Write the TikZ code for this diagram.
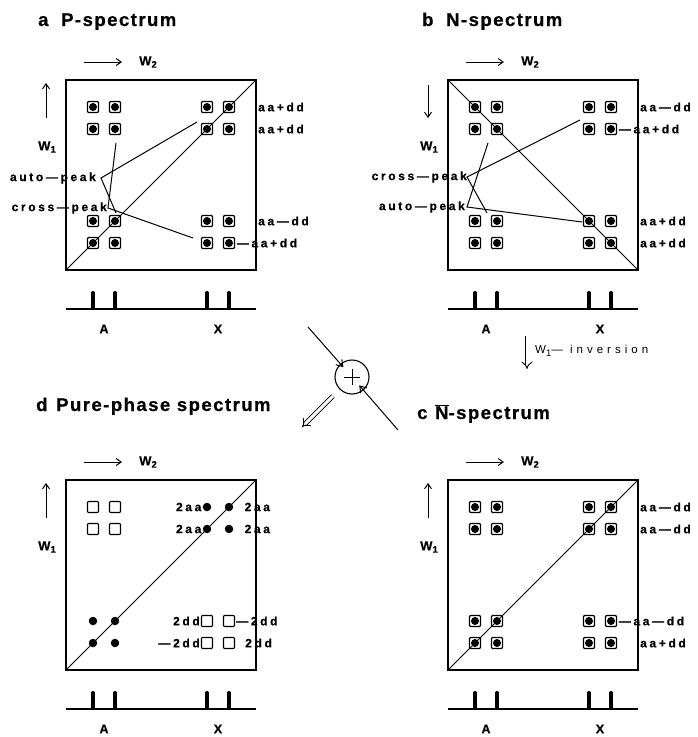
\documentclass[tikz,border=0pt]{standalone}
\usepackage{fontspec}
\setmainfont{Liberation Sans}[BoldFeatures={FakeBold=0.4}]
\newfontfamily\lblfont[LetterSpace=22, BoldFeatures={FakeBold=0.6}]{Liberation Sans}
\newfontfamily\ttlfont[LetterSpace=8, BoldFeatures={FakeBold=0.6}]{Liberation Sans}
\newfontfamily\invfont[LetterSpace=35]{Liberation Sans}
\usetikzlibrary{arrows.meta}
\newcommand\wsub[2]{W\raisebox{-2.5pt}{\fontsize{9.5}{9.5}\selectfont #2}}
% #1 prefix, #2 L, #3 T, #4 W1 start offset, #5 W1 end offset
\newcommand\panelframe[5]{%
  \draw[boxln] (#2,#3) rectangle ({#2+190},{#3+190});
  \coordinate (#1bl) at (#2,{#3+229});
  \coordinate (#1br) at ({#2+190},{#3+229});
  \draw[boxln] (#1bl) -- (#1br);
  \foreach \cc in {27,49,141,163}
    \fill[rounded corners=1.2pt] ({#2+\cc-1.8},{#3+229}) rectangle ({#2+\cc+1.8},{#3+211});
  \node[axlet] (#1A) at ({#2+38},{#3+249}) {A};
  \node[axlet] (#1X) at ({#2+152},{#3+249}) {X};
  \coordinate (#1w2s) at ({#2+18},{#3-18});
  \coordinate (#1w2e) at ({#2+56},{#3-18});
  \draw[axarr] (#1w2s) -- (#1w2e);
  \node[axl] (#1W2) at ({#2+82},{#3-18}) {\wsub{W}{2}};
  \coordinate (#1w1s) at ({#2-20},{#3+#4});
  \coordinate (#1w1e) at ({#2-20},{#3+#5});
  \draw[axarr] (#1w1s) -- (#1w1e);
  \node[axl] (#1W1) at ({#2-19},{#3+67}) {\wsub{W}{1}};
}
\begin{document}
\begin{tikzpicture}[x=1pt,y=-1pt,
  boxln/.style={line width=1.4pt},
  diagln/.style={line width=1pt},
  conn/.style={line width=1pt},
  pk/.style={draw, line width=1.3pt, minimum size=11pt, inner sep=0pt, rounded corners=1pt,
    path picture={\fill (path picture bounding box.center) circle (4pt);}},
  fdot/.style={circle, fill, inner sep=0pt, minimum size=8.5pt},
  esq/.style={draw, line width=1.1pt, minimum size=11pt, inner sep=0pt, rounded corners=0.8pt},
  lbl/.style={font=\lblfont\bfseries\fontsize{12}{14}\selectfont, inner sep=0pt},
  ttl/.style={font=\ttlfont\bfseries\fontsize{18.5}{20}\selectfont, inner sep=0pt, anchor=base west},
  axl/.style={font=\bfseries\fontsize{13}{14}\selectfont, inner sep=0pt},
  axlet/.style={font=\bfseries\fontsize{12.5}{14}\selectfont, inner sep=0pt},
  axarr/.style={line width=1pt, -{Straight Barb[length=5pt,width=7pt]}},
  flow/.style={line width=1pt, -{Straight Barb[length=6pt,width=8pt]}},
  hollow/.style={double, double distance=3pt, line width=0.9pt, -{Implies}},
  invl/.style={font=\invfont\fontsize{11.5}{13}\selectfont, inner sep=0pt},
]
\useasboundingbox (0,0) rectangle (697,737);

% ---------- titles ----------
\node[ttl] (ta) at (38,26) {a};
\node[ttl] (tat) at (61,26) {P-spectrum};
\node[ttl] (tb) at (422,26) {b};
\node[ttl] (tbt) at (446,26) {N-spectrum};
\node[ttl] (td) at (36,411) {d};
\node[ttl] (tdt) at (56,411) {Pure-phase spectrum};
\node[ttl] (tc) at (417,419) {c};
\node[ttl] (tct) at (435,419) {\ensuremath{\overline{\mbox{N}}}-spectrum};

% ---------- panel a ----------
\panelframe{a}{66}{80}{38}{3}
\draw[diagln] (66,270) -- (256,80);
\foreach \r [count=\i] in {27,49,141,163}
  \foreach \c [count=\j] in {27,49,141,163}
    \node[pk] (a\i\j) at ({66+\c},{80+\r}) {};
\node[lbl, anchor=west] (al1) at (258,107) {aa+dd};
\node[lbl, anchor=west] (al2) at (258,129) {aa+dd};
\node[lbl, anchor=west] (al3) at (258,221) {aa—dd};
\node[lbl, anchor=west] (al4) at ([xshift=1.5pt]a44.east) {—aa+dd};
\node[lbl, anchor=east] (aauto) at (96,178) {auto—peak};
\node[lbl, anchor=east] (across) at (107,208) {cross—peak};
\coordinate (aav) at (101,178);
\coordinate (aae1) at (197,122);
\coordinate (aae2) at (116,213);
\draw[conn] (aae1) -- (aav) -- (aae2);
\coordinate (acv) at (108,208);
\coordinate (ace1) at (116,143);
\coordinate (ace2) at (193,238);
\draw[conn] (ace1) -- (acv) -- (ace2);

% ---------- panel b ----------
\panelframe{b}{448}{80}{5}{38}
\draw[diagln] (448,80) -- (638,270);
\foreach \r [count=\i] in {27,49,141,163}
  \foreach \c [count=\j] in {27,49,141,163}
    \node[pk] (b\i\j) at ({448+\c},{80+\r}) {};
\node[lbl, anchor=west] (bl1) at (640,107) {aa—dd};
\node[lbl, anchor=west] (bl2) at ([xshift=1.5pt]b24.east) {—aa+dd};
\node[lbl, anchor=west] (bl3) at (640,221) {aa+dd};
\node[lbl, anchor=west] (bl4) at (640,243) {aa+dd};
\node[lbl, anchor=east] (bcross) at (467,177) {cross—peak};
\node[lbl, anchor=east] (bauto) at (465,207) {auto—peak};
\coordinate (bcv) at (467,177);
\coordinate (bce1) at (580,120);
\coordinate (bce2) at (487,213);
\draw[conn] (bce1) -- (bcv) -- (bce2);
\coordinate (bav) at (467,207);
\coordinate (bae1) at (488,143);
\coordinate (bae2) at (582,222);
\draw[conn] (bae1) -- (bav) -- (bae2);

% ---------- panel d ----------
\panelframe{d}{66}{480}{38}{3}
\draw[diagln] (66,670) -- (256,480);
\foreach \r/\i in {27/1,49/2}{
  \foreach \c/\j in {27/1,49/2} \node[esq] (d\i\j) at ({66+\c},{480+\r}) {};
  \foreach \c/\j in {141/3,163/4} \node[fdot] (d\i\j) at ({66+\c},{480+\r}) {};
}
\foreach \r/\i in {141/3,163/4}{
  \foreach \c/\j in {27/1,49/2} \node[fdot] (d\i\j) at ({66+\c},{480+\r}) {};
  \foreach \c/\j in {141/3,163/4} \node[esq] (d\i\j) at ({66+\c},{480+\r}) {};
}
\node[lbl, anchor=east] (dl1a) at ([xshift=-1pt]d13.west) {2aa};
\node[lbl, anchor=west] (dl1b) at ([xshift=11pt]d14.east) {2aa};
\node[lbl, anchor=east] (dl2a) at ([xshift=-1pt]d23.west) {2aa};
\node[lbl, anchor=west] (dl2b) at ([xshift=11pt]d24.east) {2aa};
\node[lbl, anchor=east] (dl3a) at ([xshift=-1pt]d33.west) {2dd};
\node[lbl, anchor=west] (dl3b) at ([xshift=1pt]d34.east) {—2dd};
\node[lbl, anchor=east] (dl4a) at ([xshift=-1pt]d43.west) {—2dd};
\node[lbl, anchor=west] (dl4b) at ([xshift=10pt]d44.east) {2dd};

% ---------- panel c ----------
\panelframe{c}{448}{480}{38}{3}
\draw[diagln] (448,670) -- (638,480);
\foreach \r [count=\i] in {27,49,141,163}
  \foreach \c [count=\j] in {27,49,141,163}
    \node[pk] (c\i\j) at ({448+\c},{480+\r}) {};
\node[lbl, anchor=west] (cl1) at (640,507) {aa—dd};
\node[lbl, anchor=west] (cl2) at (640,529) {aa—dd};
\node[lbl, anchor=west] (cl3) at ([xshift=1.5pt]c34.east) {—aa—dd};
\node[lbl, anchor=west] (cl4) at (640,643) {aa+dd};

% ---------- combination ----------
\node[draw, circle, line width=1.1pt, minimum size=34pt, inner sep=0pt] (plus) at (352,377) {};
\draw[line width=1pt] ([xshift=-8pt]plus.center) -- ([xshift=8pt]plus.center);
\draw[line width=1pt] ([yshift=-8pt]plus.center) -- ([yshift=8pt]plus.center);
\coordinate (inA) at (308,327);
\coordinate (inC) at (398,430);
\coordinate (outD) at (302,427);
\draw[flow, shorten >=13pt] (inA) -- (plus.center);
\draw[flow, shorten >=11pt] (inC) -- (plus.center);
\draw[hollow, shorten <=27pt] (plus.center) -- (outD);

% ---------- W1 inversion ----------
\coordinate (invs) at (527,336);
\coordinate (inve) at (527,369);
\draw[hollow] (invs) -- (inve);
\node[invl, anchor=west] (invlab) at (535,351) {\wsub{W}{1}— inversion};
\end{tikzpicture}
\end{document}
